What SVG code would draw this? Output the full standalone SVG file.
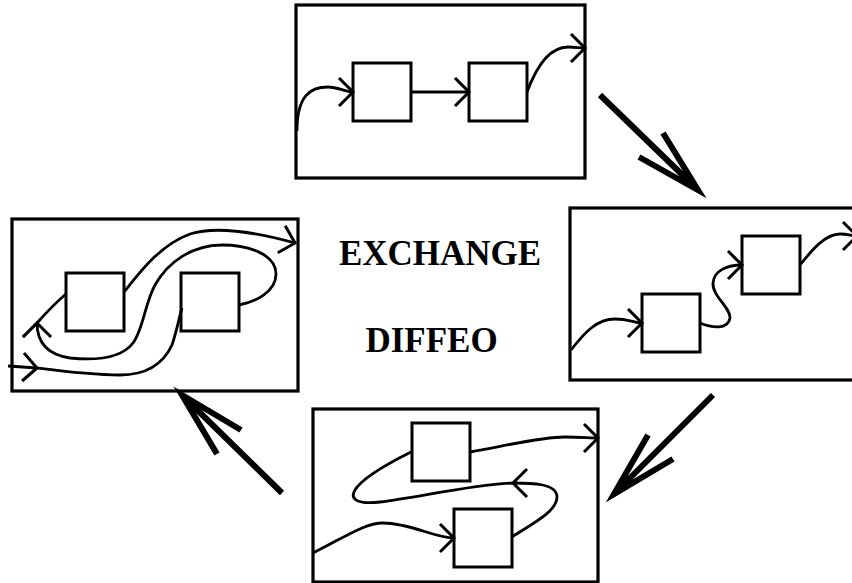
<svg xmlns="http://www.w3.org/2000/svg" width="852" height="583" viewBox="0 0 852 583">
<defs>
<style>
.frame{fill:#fff;stroke:#000;stroke-width:3.2}
.box{fill:#fff;stroke:#000;stroke-width:3}
.c{fill:none;stroke:#000;stroke-width:2.8}
.big{fill:none;stroke:#000;stroke-width:6;stroke-linejoin:miter;stroke-miterlimit:6}
.lbl{font-family:"Liberation Serif","Times New Roman",serif;font-weight:bold;font-size:35px;text-anchor:middle;fill:#000}
</style>
<marker id="ch" markerUnits="userSpaceOnUse" markerWidth="40" markerHeight="40" refX="0" refY="0" viewBox="-20 -20 40 40" orient="auto" overflow="visible">
<path d="M-14,-14 L0,0 L-14,14" fill="none" stroke="#000" stroke-width="3"/>
</marker>
</defs>
<rect width="852" height="583" fill="#fff"/>

<g id="panel-top">
<rect class="frame" x="296" y="5" width="289" height="173"/>
<g id="top-box1"><rect class="box" x="353" y="63" width="58" height="58"/></g>
<g id="top-box2"><rect class="box" x="469" y="63" width="58" height="58"/></g>
</g>

<g id="panel-right">
<rect class="frame" x="570" y="208" width="300" height="172"/>
<g id="right-box1"><rect class="box" x="642" y="294" width="58" height="58"/></g>
<g id="right-box2"><rect class="box" x="742" y="236" width="58" height="58"/></g>
</g>

<g id="panel-bottom">
<rect class="frame" x="313" y="409" width="285" height="173"/>
<g id="bottom-box1"><rect class="box" x="412" y="423" width="58" height="58"/></g>
<g id="bottom-box2"><rect class="box" x="454" y="509" width="58" height="58"/></g>
</g>

<g id="panel-left">
<rect class="frame" x="12" y="219" width="286" height="172"/>
<g id="left-box1"><rect class="box" x="66" y="273" width="58" height="58"/></g>
<g id="left-box2"><rect class="box" x="181" y="273" width="58" height="58"/></g>
</g>

<g id="labels">
<text class="lbl" x="440" y="265">EXCHANGE</text>
<text class="lbl" x="431.5" y="352">DIFFEO</text>
</g>

<g id="connectors">
<!-- top panel -->
<path class="c" d="M297,131 C297,96 310,87 328,87 C338,87 345,92 353,92" marker-end="url(#ch)"/>
<path class="c" d="M411,92 L469,92" marker-end="url(#ch)"/>
<path class="c" d="M527,92 C537,65 550,47 568,47 C575,47 580,48 585,48" marker-end="url(#ch)"/>
<!-- right panel -->
<path class="c" d="M571,350 C585,332 597,319 615,319 C628,319 635,323 642,323" marker-end="url(#ch)"/>
<path class="c" d="M700,323 C712,328 728,330 730,318 C731,308 712,296 713,283 C714,270 728,265 742,265" marker-end="url(#ch)"/>
<path class="c" d="M800,265 C812,250 825,234 840,234 C848,234 852,236 857,236" marker-end="url(#ch)"/>
<!-- bottom panel -->
<path class="c" d="M313,553 C345,537 365,523 383,523 C410,523 435,538 454,538" marker-end="url(#ch)"/>
<path class="c" d="M512,537 C530,525 557,512 557,497 C557,483 530,483 513,483" marker-end="url(#ch)"/>
<path class="c" d="M513,483 C470,485 420,497 380,502 C355,505 350,498 355,490 C362,478 385,465 411,452"/>
<path class="c" d="M470,452 C505,446 540,437 565,437 C580,437 590,438 598,438" marker-end="url(#ch)"/>
<!-- left panel -->
<path class="c" d="M8,366 L37,368" marker-end="url(#ch)"/>
<path class="c" d="M37,368 C60,371 90,375 120,375 C150,375 165,360 172,345 C177,330 179,318 182,308"/>
<path class="c" d="M239,305 C255,302 276,292 276,274 C276,255 250,245 222,245 C192,245 168,262 155,285 C145,303 143,330 133,343 C120,360 90,360 70,358 C50,355 37,345 37,323" marker-end="url(#ch)"/>
<path class="c" d="M23,337 L37,323 C45,314 55,303 66,294"/>
<path class="c" d="M124,292 C140,272 160,245 190,234 C215,226 255,232 295,243" marker-end="url(#ch)"/>
<!-- big transition arrows -->
<path class="big" d="M600,95 L698,190 M663,133 L698,190 L639,157"/>
<path class="big" d="M713,395 L614,494 M648,435 L614,494 L673,459"/>
<path class="big" d="M282,493 L182,395 M217,454 L182,395 L241,430"/>
</g>
</svg>
